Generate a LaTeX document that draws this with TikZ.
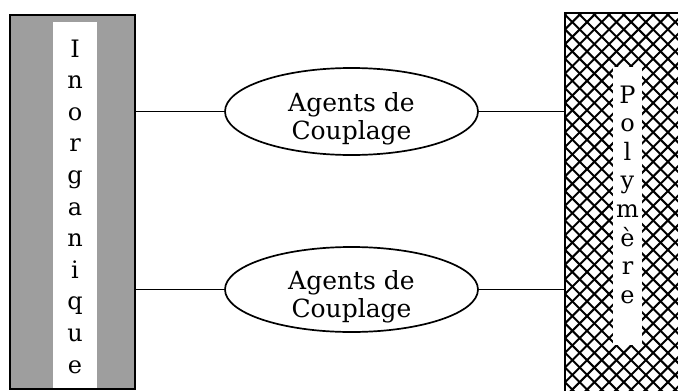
\documentclass[tikz,border=0pt]{standalone}
\usepackage{fontspec}
\setmainfont{DejaVu Serif}
\usetikzlibrary{shapes.geometric}
\begin{document}
\begin{tikzpicture}[x=1pt,y=-1pt,
  box/.style={rectangle, inner sep=0pt, outer sep=0pt},
  boxline/.style={line width=2.2pt},
  agent/.style={ellipse, draw, line width=1.7pt, minimum width=253pt, minimum height=87pt, inner sep=0pt},
  agenttext/.style={align=center, inner sep=0pt, font=\fontsize{25}{28}\selectfont},
  link/.style={line width=1.7pt},
  letter/.style={anchor=base, inner sep=0pt, font=\fontsize{24}{24}\selectfont},
  hatch/.style={line width=2pt}]
\clip (0,0) rectangle (678,391);
\fill[white] (0,0) rectangle (678,391);
% left box
\node[box, minimum width=125pt, minimum height=374pt, fill=black!38] (inorg) at (72.5,202) {};
\fill[white] (53,22) rectangle (97,395);
\draw[boxline] (inorg.north west) rectangle (inorg.south east);
% right box
\node[box, minimum width=140pt, minimum height=390pt] (polym) at (635,208) {};
\begin{scope}
  \clip (polym.north west) rectangle (polym.south east);
  \foreach \i in {-28,...,38} {
    \draw[hatch] ({565+\i*14.7},0) -- ++(420,420);
    \draw[hatch] ({565+\i*14.7},0) -- ++(-420,420);
  }
\end{scope}
\fill[white] (613,67) rectangle (642,345);
\draw[boxline] (polym.north west) rectangle (polym.south east);
% letters
\foreach \l [count=\i from 0] in {I,n,o,r,g,a,n,i,q,u,e}
  \node[letter] (in\i) at (75,{57+31.6*\i}) {\l};
\foreach \l [count=\i from 0] in {P,o,l,y,m,è,r,e}
  \node[letter] (po\i) at (627.5,{103+28.6*\i}) {\l};
% ellipses
\node[agent] (a1) at (351.5,111.5) {};
\node[agent, minimum height=85pt] (a2) at (351.5,289.5) {};
\node[agenttext] (t1) at ([yshift=-7pt]a1.center) {Agents de\\Couplage};
\node[agenttext] (t2) at ([yshift=-7pt]a2.center) {Agents de\\Couplage};
% connectors
\draw[link] (inorg.east |- a1.west) -- (a1.west);
\draw[link] (a1.east) -- (a1.east -| polym.west);
\draw[link] (inorg.east |- a2.west) -- (a2.west);
\draw[link] (a2.east) -- (a2.east -| polym.west);
\end{tikzpicture}
\end{document}
